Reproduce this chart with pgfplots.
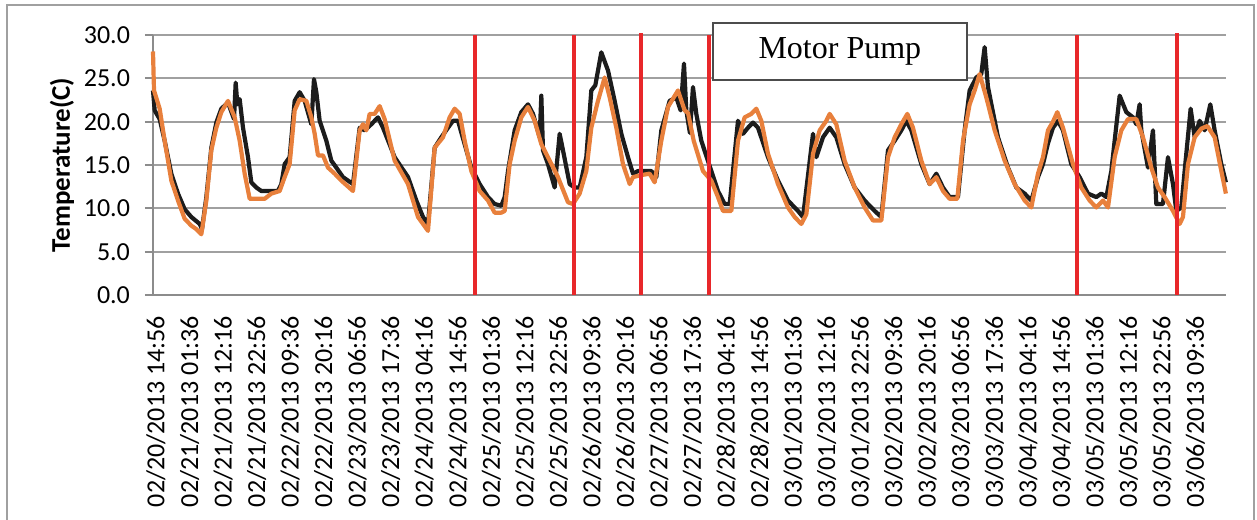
\documentclass[border=0pt]{standalone}
\usepackage{pgfplots}
\pgfplotsset{compat=1.18}
\usepackage{pgfplotstable}
\usepackage{fontspec}
\setmainfont{Carlito}
\newfontfamily\seriffont{Liberation Serif}
\definecolor{blk}{HTML}{1C1C1C}
\definecolor{org}{HTML}{E8803C}
\definecolor{redl}{HTML}{E8272A}
\definecolor{gridc}{HTML}{A0A0A0}
\definecolor{axc}{HTML}{8C8C8C}

% hours since 02/20/2013 14:56, temperature (C)
\pgfplotstableread{
h T
0 23.6
0.53 21.3
2.12 20.3
3.71 17.8
5.83 14.0
7.95 11.7
10.07 9.9
12.19 9.0
14.85 8.2
15.59 7.6
16.97 11.3
18.56 17.0
20.15 19.9
21.74 21.5
23.86 22.2
25.77 20.3
26.30 24.5
26.83 22.0
27.57 22.6
28.63 19.3
30.22 15.9
31.28 13.0
32.87 12.4
34.46 12.0
39.76 12.0
40.82 12.8
41.88 15.1
43.47 15.9
45.07 22.4
46.66 23.4
48.25 22.4
50.37 19.7
51.21 24.9
51.96 23.4
53.02 20.1
55.14 17.8
56.73 15.5
58.32 14.7
60.44 13.6
63.62 12.8
65.74 19.3
67.33 19.0
69.45 19.7
71.57 20.5
73.16 19.3
76.87 15.9
81.12 13.6
83.77 10.9
85.89 9.0
87.48 8.2
89.60 17.0
91.72 18.2
93.84 19.3
95.43 20.1
97.02 20.1
99.14 17.4
101.26 14.7
103.91 12.8
106.56 11.3
108.69 10.5
110.80 10.3
111.87 11.3
112.93 14.3
115.05 19.0
117.17 21.1
119.29 22.0
120.88 20.9
123.0 18.2
123.53 23.0
124.06 16.7
125.65 15.1
127.77 12.4
129.36 18.6
130.42 16.7
132.54 12.8
134.13 12.4
135.72 12.4
137.84 15.9
139.43 23.6
140.71 24.2
142.61 28.0
144.74 25.9
146.86 22.4
148.98 18.6
151.10 15.9
152.69 14.0
154.28 14.3
158.52 14.3
160.11 13.6
161.70 19.0
164.35 22.4
166.47 22.8
167.85 21.3
168.91 26.7
169.65 21.3
170.8 18.7
171.77 24.0
172.83 20.9
174.42 17.8
177.61 14.3
179.73 12.0
181.85 10.5
183.44 10.5
186.09 20.1
187.68 18.6
189.27 19.3
190.86 19.9
192.45 19.3
195.63 15.9
198.81 13.2
201.99 10.9
205.17 9.7
206.77 9.0
209.95 18.6
211.01 15.9
213.13 18.2
215.25 19.3
217.37 18.2
220.02 15.1
223.20 12.4
226.38 10.9
229.57 9.7
231.69 9.0
233.81 16.7
235.93 17.8
238.05 19.0
239.64 20.1
241.23 19.0
244.41 15.1
247.06 12.8
249.18 14.0
251.30 12.4
253.42 11.3
256.07 11.3
258.19 19.0
259.78 23.6
261.90 25.1
263.49 25.5
264.55 28.6
265.61 24.0
268.79 18.2
271.98 14.7
274.63 12.4
277.28 11.7
279.40 10.9
281.52 13.6
283.11 15.1
284.70 17.5
286.29 19.3
287.88 20.1
289.47 19.0
292.12 15.1
294.77 13.6
297.42 11.7
300.07 11.3
301.67 11.7
303.26 11.3
304.85 14.3
305.91 17.8
307.50 23.0
309.62 21.1
311.74 20.5
312.80 19.7
313.86 22.0
314.39 19.0
316.51 14.7
318.10 19.0
319.16 10.5
321.28 10.5
322.87 15.9
324.46 12.8
325.52 9.7
327.11 10.1
328.17 14.3
330.08 21.5
331.36 18.2
332.95 20.1
334.54 19.0
336.34 22.0
337.72 19.0
339.84 15.1
341.3 13.0
}\blackdata

\pgfplotstableread{
h T
0 28.1
0.32 23.6
2.12 21.5
3.71 17.8
5.83 13.2
7.95 10.9
10.07 8.8
12.19 8.0
13.78 7.6
15.37 7.0
16.97 10.9
18.56 16.7
20.15 19.3
21.74 21.1
23.86 22.4
25.98 20.5
27.57 17.8
29.16 14.0
30.75 11.1
35.52 11.1
37.64 11.7
40.29 12.0
41.88 13.6
43.47 15.1
45.07 21.3
46.66 22.6
48.78 22.4
50.37 20.5
51.43 18.6
52.49 16.1
54.08 16.1
55.67 14.7
57.79 14.0
59.91 13.2
63.62 12.0
65.74 19.0
66.80 19.7
67.86 19.0
68.92 20.9
70.51 20.9
72.10 21.8
73.69 20.3
76.87 15.5
81.12 12.8
84.30 9.0
87.48 7.4
89.60 17.0
92.25 18.2
94.37 20.5
95.96 21.5
97.55 20.9
99.14 17.8
101.26 14.3
103.91 12.0
106.56 10.9
108.69 9.5
110.80 9.5
111.87 9.7
113.46 15.1
115.05 17.8
117.17 20.5
119.29 21.7
121.41 20.1
123.53 17.4
125.65 15.9
128.83 13.6
132.01 10.7
133.60 10.5
135.72 11.7
137.84 14.3
139.43 19.3
141.55 22.4
143.68 25.1
145.27 22.8
147.39 19.3
149.51 15.1
151.63 12.8
152.69 13.6
154.81 13.8
157.99 14.0
159.58 13.0
161.70 17.8
163.82 21.7
167.0 23.6
169.13 21.3
170.2 21.0
172.0 17.8
174.96 14.3
177.61 13.2
179.73 11.3
181.32 9.7
183.97 9.7
186.09 17.8
188.21 20.5
190.33 20.9
191.92 21.5
193.51 20.1
195.63 16.3
198.81 12.8
201.99 10.1
204.11 9.0
206.23 8.2
207.83 9.3
209.95 16.3
212.07 19.0
214.19 20.1
215.25 20.9
217.37 19.7
220.02 15.5
223.20 12.4
226.38 10.1
229.03 8.6
231.69 8.6
233.81 15.9
235.93 18.2
238.05 19.7
239.96 20.9
241.76 19.3
244.41 15.5
247.06 12.8
249.18 13.6
251.30 12.0
253.42 11.1
255.86 11.1
257.67 17.8
259.78 22.0
261.37 23.6
262.96 25.5
265.08 22.8
267.74 19.0
270.92 15.5
274.10 12.8
277.28 10.9
279.40 10.1
281.52 14.0
283.11 15.9
284.70 19.0
286.29 20.0
287.67 21.1
289.47 19.3
292.65 15.1
295.30 12.4
297.95 10.9
300.07 10.1
302.20 10.9
303.79 10.1
305.91 15.9
308.03 19.0
310.15 20.3
312.80 20.3
314.92 18.2
317.57 14.7
319.69 12.4
321.81 11.3
324.46 9.7
326.58 8.2
327.64 9.0
329.23 15.1
331.36 18.2
333.49 19.2
335.39 19.5
337.72 18.2
339.84 14.3
341.3 11.7
}\orangedata

\begin{document}
\begin{tikzpicture}
\path[use as bounding box] (-76.5pt,-112pt) rectangle (552pt,147.5pt);
\begin{axis}[
  at={(0,0)}, anchor=south west,
  scale only axis, width=536.5pt, height=130pt,
  xmin=0, xmax=341.3333, ymin=0, ymax=30,
  clip=false,
  axis x line*=bottom, axis y line*=left,
  axis line style={axc, line width=1pt},
  ytick={0,5,...,30},
  ymajorgrids, major grid style={gridc, line width=0.9pt},
  tick align=outside, major tick length=4pt,
  y tick style={axc, line width=0.9pt},
  x tick style={draw=none},
  yticklabel style={/pgf/number format/fixed, /pgf/number format/fixed zerofill, /pgf/number format/precision=1, /pgf/number format/assume math mode=true, xshift=-4pt, font=\fontsize{13}{15}\selectfont},
  xtick={0,10.6667,21.3333,32,42.6667,53.3333,64,74.6667,85.3333,96,106.6667,117.3333,128,138.6667,149.3333,160,170.6667,181.3333,192,202.6667,213.3333,224,234.6667,245.3333,256,266.6667,277.3333,288,298.6667,309.3333,320,330.6667},
  xticklabels={02/20/2013 14:56,02/21/2013 01:36,02/21/2013 12:16,02/21/2013 22:56,02/22/2013 09:36,02/22/2013 20:16,02/23/2013 06:56,02/23/2013 17:36,02/24/2013 04:16,02/24/2013 14:56,02/25/2013 01:36,02/25/2013 12:16,02/25/2013 22:56,02/26/2013 09:36,02/26/2013 20:16,02/27/2013 06:56,02/27/2013 17:36,02/28/2013 04:16,02/28/2013 14:56,03/01/2013 01:36,03/01/2013 12:16,03/01/2013 22:56,03/02/2013 09:36,03/02/2013 20:16,03/03/2013 06:56,03/03/2013 17:36,03/04/2013 04:16,03/04/2013 14:56,03/05/2013 01:36,03/05/2013 12:16,03/05/2013 22:56,03/06/2013 09:36},
  xticklabel style={xshift=1.5pt, yshift=-3pt, rotate=90, anchor=east, font=\fontsize{13}{15}\selectfont},
  ylabel={\textbf{Temperature(C)}},
  ylabel style={at={(axis description cs:-0.0848,0.5)}, rotate=0, anchor=center, font=\fontsize{13.5}{16}\selectfont},
]
\addplot[blk, line width=2.1pt, line join=round] table[x=h, y=T] {\blackdata};
\addplot[org, line width=2.1pt, line join=round] table[x=h, y=T] {\orangedata};
\addplot[redl, line width=2pt, forget plot] coordinates {(102.3,0) (102.3,30)};
\addplot[redl, line width=2pt, forget plot] coordinates {(133.8,0) (133.8,30)};
\addplot[redl, line width=2pt, forget plot] coordinates {(155.3,0) (155.3,30.2)};
\addplot[redl, line width=2pt, forget plot] coordinates {(176.8,0) (176.8,30)};
\addplot[redl, line width=2pt, forget plot] coordinates {(294.0,0) (294.0,30)};
\addplot[redl, line width=2pt, forget plot] coordinates {(325.8,0) (325.8,30.2)};
\node[draw=black!70, fill=white, line width=0.8pt, minimum width=127pt, minimum height=28.5pt, inner sep=0pt, font=\seriffont\fontsize{16}{18}\selectfont] at (axis cs:218.5,28.1) {Motor Pump};
\end{axis}
\draw[gridc, line width=1pt] (-73pt,-125pt) rectangle (550.5pt,145pt);
\end{tikzpicture}
\end{document}
